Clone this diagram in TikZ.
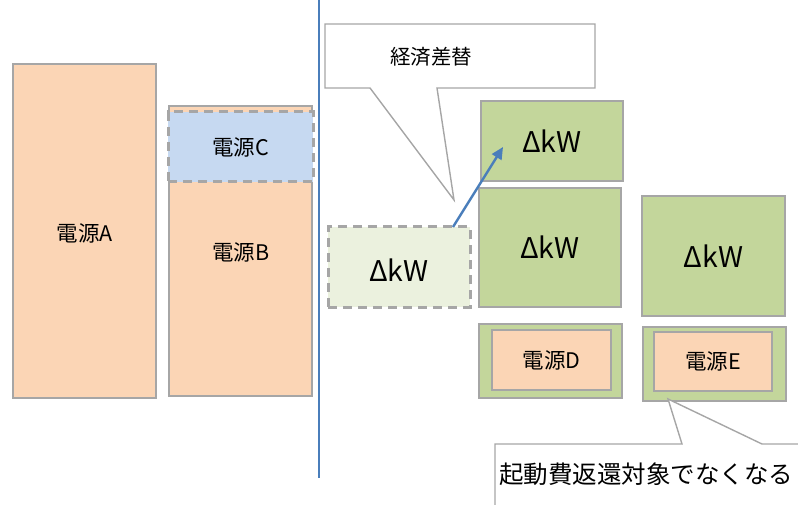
\documentclass[tikz,border=0pt]{standalone}
\usepackage{fontspec}
\setmainfont{Noto Sans CJK JP}
\usetikzlibrary{arrows.meta}
\definecolor{peach}{HTML}{FBD5B5}
\definecolor{lblue}{HTML}{C6D9F1}
\definecolor{green1}{HTML}{C3D69B}
\definecolor{lgreen}{HTML}{EBF1DE}
\definecolor{edge}{HTML}{A6A6A6}
\definecolor{bluel}{HTML}{4A7EBB}
\tikzset{
  pbox/.style={draw=edge, line width=1.6pt, fill=peach, inner sep=0pt, font=\fontsize{21.5}{23}\selectfont},
  cbox/.style={draw=edge, line width=3pt, dash pattern=on 9pt off 6pt, fill=lblue, inner sep=0pt, font=\fontsize{21.5}{23}\selectfont},
  gbox/.style={draw=edge, line width=1.6pt, fill=green1, inner sep=0pt, font=\fontsize{28.5}{30}\selectfont},
  dbox/.style={draw=edge, line width=3pt, dash pattern=on 9pt off 6pt, fill=lgreen, inner sep=0pt},
  obox/.style={draw=edge, line width=1.6pt, fill=green1, inner sep=0pt},
  ibox/.style={draw=edge, line width=1.6pt, fill=peach, inner sep=0pt, font=\fontsize{21.5}{23}\selectfont},
  callout/.style={draw=edge, line width=1.4pt, fill=white},
  lbl/.style={inner sep=0pt, anchor=center}
}
\begin{document}
\begin{tikzpicture}[x=1pt,y=-1pt]
\useasboundingbox (0,0) rectangle (798,505);
\begin{scope}
\clip (0,0) rectangle (798,505);
% left column
\node[pbox, minimum width=143, minimum height=334] (A) at (84.5,231) {};
\node[lbl, font=\fontsize{21.5}{23}\selectfont] (At) at (85,233) {電源A};
\node[pbox, minimum width=143, minimum height=290] (B) at (240.5,251) {};
\node[lbl, font=\fontsize{21.5}{23}\selectfont] (Bt) at (241,252) {電源B};
\node[cbox, minimum width=145, minimum height=70] (C) at (240.5,147) {電源C};
% divider
\coordinate (vt) at (319,0);
\coordinate (vb) at (319,478);
\draw[bluel, line width=1.6pt] (vt) -- (vb);
% top callout
\coordinate (tip1) at (454,200);
\draw[callout] (325,24) -- (595,24) -- (595,88) -- (437,88) -- (tip1) -- (370,88) -- (325,88) -- cycle;
\node[lbl, font=\fontsize{20.5}{22}\selectfont] (econ) at (431,57) {経済差替};
% kW boxes
\node[gbox, minimum width=142, minimum height=80] (K1) at (552,141) {ΔkW};
\node[gbox, minimum width=142, minimum height=119] (K2) at (550,247.5) {ΔkW};
\node[gbox, minimum width=143, minimum height=120] (K3) at (713.5,256) {ΔkW};
\node[dbox, minimum width=142, minimum height=80] (K0) at (399,267) {};
\node[lbl, font=\fontsize{28.5}{30}\selectfont] (K0t) at (399,270) {ΔkW};
% arrow
\coordinate (as) at (453,227);
\coordinate (ae) at (503,147);
\draw[bluel, line width=2.4pt, -{Triangle[length=12pt,width=11pt]}] (as) -- (ae);
% D, E
\node[obox, minimum width=143, minimum height=74] (Do) at (550.5,361) {};
\node[ibox, minimum width=119, minimum height=60] (Di) at (551.5,360) {電源D};
\node[obox, minimum width=143, minimum height=74] (Eo) at (714.5,364) {};
\node[ibox, minimum width=118, minimum height=59] (Ei) at (713,361.5) {電源E};
% bottom callout
\coordinate (tip2) at (668,399);
\draw[callout] (495,520) -- (495,444) -- (682,444) -- (tip2) -- (762,444) -- (820,444) -- (820,520) -- cycle;
\node[anchor=west, inner sep=0pt, font=\fontsize{24.5}{26}\selectfont] (ret) at (499,474) {起動費返還対象でなくなる};
\end{scope}
\end{tikzpicture}
\end{document}
